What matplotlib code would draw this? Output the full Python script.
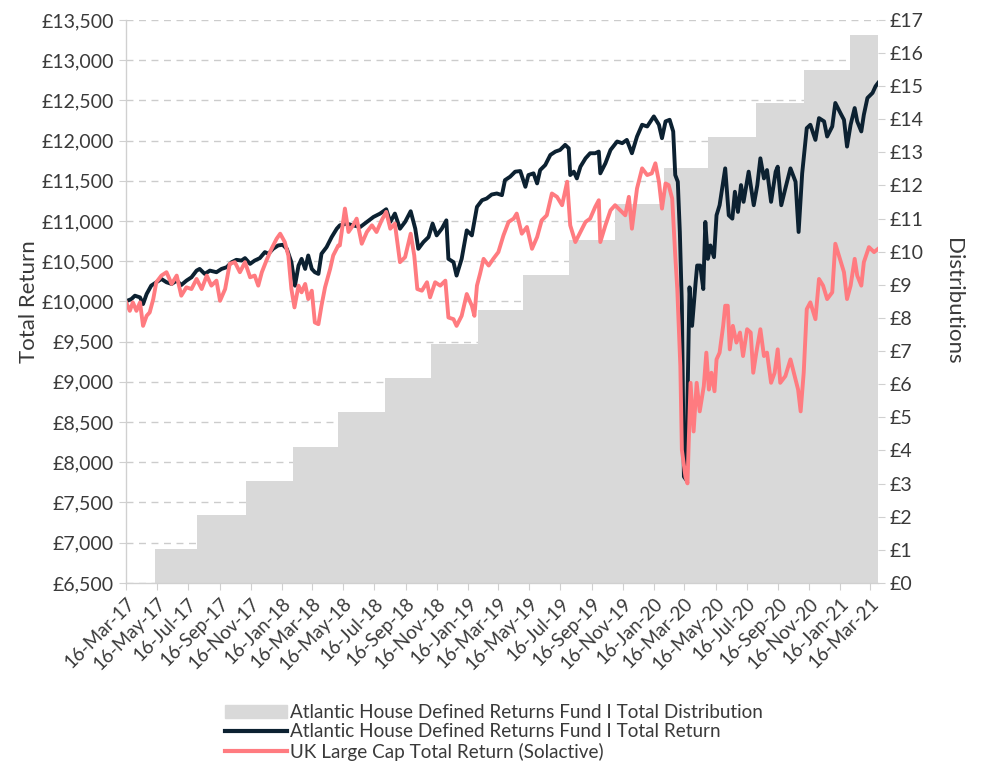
import numpy as np
import pandas as pd
import matplotlib
matplotlib.use("Agg")
import matplotlib.pyplot as plt
import matplotlib.patches as mpatches
from matplotlib.lines import Line2D
from matplotlib.ticker import FuncFormatter, MultipleLocator

start = pd.Timestamp("2017-03-16")
end_day = 1476

# days since 16-Mar-17, values in GBP
fund_days = [0, 11, 18, 28, 34, 41, 50, 60, 70, 80, 90, 100, 109, 119, 129, 139, 145, 155, 165, 178,
             188, 198, 208, 217, 227, 234, 244, 253, 263, 273, 280, 289, 299, 308, 316, 325, 332, 339, 345, 352,
             358, 365, 371, 378, 384, 394, 404, 414,
             420, 433, 446, 460, 473, 486, 499, 511, 519, 528, 538, 548, 559, 568, 574, 584, 594, 602, 610, 620,
             629, 633, 643, 649, 659, 669, 679, 689, 699, 708, 718, 728, 738, 744, 754, 764, 774, 784, 790, 800,
             807, 813, 823, 833, 843, 852, 862, 869, 872, 879, 885, 892, 902, 911, 921, 928,
             931, 941, 951, 964, 974, 983, 993, 1003, 1013, 1023, 1036, 1046, 1052, 1059, 1067, 1074, 1078, 1083,
             1087, 1091, 1095, 1100, 1102, 1106, 1111, 1118, 1121,
             1127, 1133, 1137, 1142, 1147, 1154, 1159, 1165, 1170, 1176, 1183, 1190, 1195, 1201, 1207, 1212,
             1222, 1232, 1239, 1245, 1252, 1258, 1266, 1275, 1279, 1286, 1294, 1304, 1314, 1320, 1327, 1336,
             1343, 1353, 1360, 1370, 1376, 1386, 1392, 1402, 1409, 1415, 1422, 1430, 1435, 1443, 1448, 1455,
             1465, 1471, 1476]
fund_vals = [10000, 10029, 10071, 10050, 9967, 10092, 10196, 10238, 10279, 10238, 10217, 10258, 10204, 10258,
             10300, 10383, 10404, 10342, 10383, 10363, 10404, 10425, 10488, 10517, 10508, 10538, 10467, 10508,
             10538, 10613, 10592, 10654, 10696, 10704, 10654, 10488, 10196, 10446, 10529, 10404, 10571, 10404,
             10363, 10342, 10592, 10675, 10800, 10904,
             10946, 10967, 10946, 10925, 10988, 11050, 11092, 11146, 10988, 11092, 10904, 10988, 11121, 10904,
             10654, 10738, 10800, 10967, 10821, 10904, 11008, 10529, 10488, 10321, 10529, 10883, 10821, 11175,
             11258, 11279, 11329, 11342, 11321, 11508, 11550, 11613, 11621, 11425, 11571, 11592, 11467, 11633,
             11696, 11821, 11863, 11883, 11946, 11904, 11571, 11613, 11529, 11675, 11779, 11842, 11842, 11863,
             11592, 11717, 11883, 11988, 11967, 12008, 11842, 12050, 12196, 12175, 12300, 12196, 12029, 12238,
             12258, 12113, 11571, 11488, 10863, 9946, 7821, 7779, 8779, 10175, 9696, 10238, 10446,
             10446, 10154, 10988, 10529, 10696, 10550, 11071, 11196, 11404, 11654, 11071, 11029, 11363, 11113,
             11446, 11238, 11613, 11196, 11446, 11779, 11529, 11633, 11238, 11613, 11675, 11196, 11404, 11654,
             11488, 10863, 11592, 12154, 12196, 12008, 12279, 12238, 12050, 12175, 12467, 12342, 12258, 11925,
             12196, 12404, 12238, 12113, 12321, 12529, 12592, 12675, 12717]

ukx_days = [0, 8, 14, 21, 28, 34, 41, 47, 54, 60, 70, 80, 90, 100, 109, 119, 129, 139, 149, 159,
            168, 178, 185, 195, 204, 214, 224, 234, 244, 253, 260, 267, 276, 286, 296, 303, 312, 319, 325, 331,
            339, 345, 352, 358, 365, 371, 378, 384, 391, 401, 407, 417,
            420, 430, 437, 446, 453, 463, 473, 483, 492, 502, 511, 519, 528, 538, 548, 559, 566, 572, 581, 591,
            597, 607, 617, 627, 633, 643, 649, 659, 669, 679, 684, 689, 695, 702, 712, 721, 731, 741, 751, 761,
            767, 777, 787, 797, 807, 816, 826, 836, 846, 856, 866, 872, 882, 892, 902, 911, 921, 928,
            931, 941, 951, 960, 970, 980, 987, 993, 1003, 1013, 1023, 1032, 1039, 1046, 1052, 1059, 1065, 1072,
            1078, 1082, 1088, 1091, 1098, 1102, 1108, 1114, 1120, 1126,
            1134, 1139, 1144, 1149, 1155, 1159, 1165, 1172, 1176, 1181, 1185, 1191, 1198, 1205, 1211, 1219,
            1226, 1231, 1237, 1245, 1252, 1258, 1266, 1273, 1279, 1284, 1294, 1304, 1314, 1319, 1324, 1330,
            1336, 1343, 1353, 1360, 1368, 1376, 1386, 1392, 1399, 1409, 1415, 1422, 1430, 1435, 1443, 1448,
            1458, 1468, 1476]
ukx_vals = [10000, 9883, 9988, 9883, 9988, 9696, 9821, 9863, 10029, 10238, 10321, 10363, 10217, 10321, 10071,
            10175, 10154, 10279, 10154, 10321, 10196, 10258, 10008, 10154, 10467, 10488, 10363, 10488, 10300,
            10321, 10196, 10363, 10508, 10654, 10779, 10842, 10738, 10571, 10154, 9925, 10196, 10113, 10217,
            10029, 10133, 9738, 9717, 9946, 10175, 10404, 10571, 10696,
            10696, 11154, 10863, 10946, 11029, 10717, 10863, 10946, 10863, 11008, 11113, 10904, 10967, 10488,
            10550, 10842, 10571, 10154, 10133, 10238, 10050, 10238, 10196, 10258, 9800, 9779, 9696, 9821,
            10092, 9946, 9821, 10196, 10342, 10529, 10446, 10529, 10613, 10821, 10988, 11029, 11092, 10842,
            10925, 10654, 10800, 11008, 11071, 11342, 11300, 11196, 11488, 10946, 10738, 10863, 10988, 11029,
            11175, 11258,
            10738, 10946, 11133, 11196, 11133, 11071, 11300, 10904, 11404, 11654, 11571, 11592, 11717, 11488,
            11154, 11467, 11446, 11279, 10571, 10154, 9196, 8154, 7821, 7738, 8988, 8383, 8988, 8633,
            8946, 9363, 8904, 9113, 8883, 9279, 9363, 9696, 9946, 9946, 9404, 9696, 9488, 9613, 9321, 9654,
            9613, 9113, 9363, 9654, 9321, 9363, 8988, 9113, 9404, 8988, 9071, 9279, 9029, 8904, 8633, 9113,
            9904, 9988, 9779, 10279, 10196, 10029, 10113, 10717, 10571, 10363, 10029, 10196, 10529, 10321,
            10196, 10488, 10675, 10613, 10654]

# cumulative distributions (GBP), stepping up each quarter
dist_days = [0, 57, 139, 236, 328, 416, 509, 599, 691, 780, 870, 960, 1055, 1143, 1237, 1330, 1420, end_day]
dist_vals = [0, 1.03, 2.05, 3.08, 4.11, 5.17, 6.19, 7.22, 8.25, 9.30, 10.36, 11.45, 12.54, 13.47, 14.50,
             15.50, 16.53, 16.53]

fund_dates = start + pd.to_timedelta(fund_days, unit="D")
ukx_dates = start + pd.to_timedelta(ukx_days, unit="D")
dist_dates = start + pd.to_timedelta(dist_days, unit="D")

plt.rcParams['font.family'] = ['Lato', 'DejaVu Sans']
txt = '#3a3a3a'
navy = '#0c2131'
pink = '#ff7b80'
grey = '#d9d9d9'

fig = plt.figure(figsize=(9.9, 7.65), dpi=100)
ax = fig.add_axes([0.127, 0.238, 0.76, 0.736])
ax2 = ax.twinx()
ax3 = ax.twinx()

ax.set_ylim(6500, 13500)
ax.yaxis.set_major_locator(MultipleLocator(500))
ax.yaxis.set_major_formatter(FuncFormatter(lambda v, p: f"£{v:,.0f}"))
ax.grid(axis='y', color='#cccccc', linestyle=(0, (5, 4)), linewidth=1)
ax.set_ylabel("Total Return", fontsize=16, color=txt, labelpad=2)

ax2.fill_between(dist_dates, dist_vals, 0, step='post', color=grey, linewidth=0)
ax2.set_ylim(0, 17)
ax2.yaxis.set_major_locator(MultipleLocator(1))
ax2.yaxis.set_major_formatter(FuncFormatter(lambda v, p: f"£{v:.0f}"))
ax2.set_ylabel("Distributions", fontsize=16, color=txt, rotation=270, labelpad=28)

ax3.plot(fund_dates, fund_vals, color=navy, lw=2.8)
ax3.plot(ukx_dates, ukx_vals, color=pink, lw=2.8)
ax3.set_ylim(6500, 13500)
ax3.set_yticks([])

ax.set_xlim(start, start + pd.Timedelta(days=end_day))
ticks = pd.date_range("2017-03-16", "2021-03-16", freq=pd.DateOffset(months=2))
ax.set_xticks(ticks)
ax.set_xticklabels([t.strftime("%d-%b-%y") for t in ticks], rotation=45, ha='right',
                   rotation_mode='anchor')

for a in (ax, ax2, ax3):
    a.spines['top'].set_visible(False)
    a.spines['right'].set_visible(False)
    a.spines['left'].set_color('#d0d0d0')
    a.spines['bottom'].set_color('#d0d0d0')
ax.tick_params(axis='both', color='#d0d0d0', length=5)
ax.tick_params(axis='both', labelcolor=txt, labelsize=14)
ax.tick_params(axis='x', labelsize=13.5)
ax2.tick_params(axis='y', color='#d0d0d0', length=5)
ax2.tick_params(axis='y', labelcolor=txt, labelsize=14)

handles = [mpatches.Patch(color=grey, label="Atlantic House Defined Returns Fund I Total Distribution"),
           Line2D([], [], color=navy, lw=3, label="Atlantic House Defined Returns Fund I Total Return"),
           Line2D([], [], color=pink, lw=3, label="UK Large Cap Total Return (Solactive)")]
fig.legend(handles=handles, loc='upper left', bbox_to_anchor=(225 / 990, 1 - 704 / 765),
           frameon=False, fontsize=13.6, handlelength=3.3, handletextpad=0.15, labelspacing=0.12,
           borderpad=0, borderaxespad=0, labelcolor=txt)

fig.savefig("out.png", dpi=100)
